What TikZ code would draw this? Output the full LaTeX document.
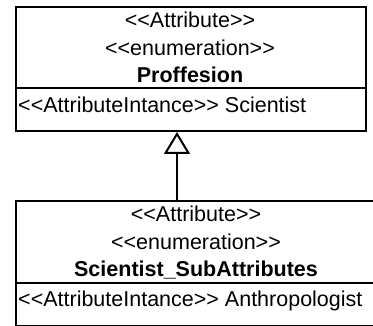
\documentclass[tikz,border=0pt]{standalone}
\usepackage{fontspec}
\setmainfont{Liberation Sans}
\usetikzlibrary{arrows.meta}
\newcommand\myltlt{<\kern0pt<}
\newcommand\mygtgt{>\kern0pt>}
\begin{document}
\begin{tikzpicture}[x=1pt,y=1pt,
  box/.style={draw=black, line width=2pt, rectangle, inner sep=0pt, anchor=north west},
  sep/.style={draw=black, line width=2pt},
  txt/.style={inner sep=0pt, anchor=base, font=\fontsize{21.5}{25}\selectfont},
  ttl/.style={txt, font=\fontsize{21.5}{25}\selectfont\bfseries},
  inst/.style={inner sep=0pt, anchor=base west, font=\fontsize{21.5}{25}\selectfont},
  gen/.style={line width=2pt, -{Triangle[open, width=26pt, length=22pt, line width=2pt]}}]
\clip (0,0) rectangle (373,-326);
\fill[white] (0,0) rectangle (373,-326);
% top class
\node[box, minimum width=350pt, minimum height=124pt] (top) at (15,-6) {};
\coordinate (tdl) at (15,-88);
\coordinate (tdr) at (365,-88);
\draw[sep] (tdl) -- (tdr);
\node[txt] (t1) at (190,-28) {\myltlt Attribute\mygtgt};
\node[txt] (t2) at (190,-56) {\myltlt enumeration\mygtgt};
\node[ttl] (t3) at (190,-83) {Proffesion};
\node[inst] (t4) at (18,-113) {\myltlt AttributeIntance\mygtgt{} Scientist};
% bottom class
\node[box, minimum width=362pt, minimum height=125pt] (bot) at (15,-200) {};
\coordinate (bdl) at (15,-283);
\coordinate (bdr) at (377,-283);
\draw[sep] (bdl) -- (bdr);
\node[txt] (b1) at (196,-222) {\myltlt Attribute\mygtgt};
\node[txt] (b2) at (196,-250) {\myltlt enumeration\mygtgt};
\node[ttl] (b3) at (196,-277) {Scientist\_SubAttributes};
\node[inst] (b4) at (18,-307) {\myltlt AttributeIntance\mygtgt{} Anthropologist};
% generalization
\coordinate (gx) at (177,0);
\draw[gen] (bot.north -| gx) -- (top.south -| gx);
\end{tikzpicture}
\end{document}
